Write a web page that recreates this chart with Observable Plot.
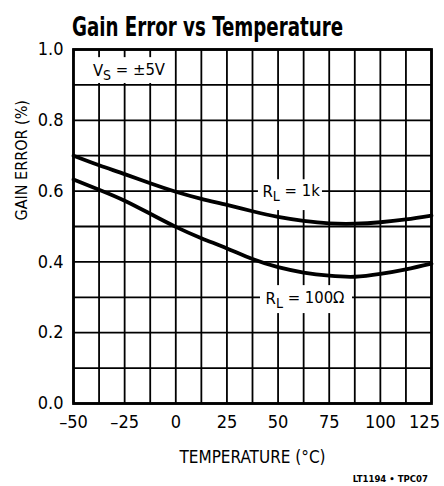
<!DOCTYPE html>
<html>
<head>
<meta charset="utf-8">
<script src="https://cdn.jsdelivr.net/npm/d3@7"></script>
<script src="https://cdn.jsdelivr.net/npm/@observablehq/plot@0.6"></script>
<style>
  html, body { margin: 0; padding: 0; background: #fff; }
  body { width: 444px; height: 486px; overflow: hidden; font-family: "Liberation Sans Narrow", "DejaVu Sans Condensed", sans-serif; }
  #title { display: block; width: 444px; height: 47px; }
  #caption { width: 444px; height: 14px; position: relative; font-size: 9.5px; font-weight: bold; }
  #caption span { position: absolute; right: 16px; top: 1px; }
</style>
</head>
<body>
<svg id="title" width="444" height="47"><text x="72" y="35.5" font-family="'Liberation Sans Narrow', 'DejaVu Sans Condensed', sans-serif" font-weight="bold" font-size="26" textLength="271" lengthAdjust="spacingAndGlyphs">Gain Error vs Temperature</text></svg>
<div id="chart"></div>
<div id="caption"><span>LT1194 • TPC07</span></div>
<script>
// Data
const temps = [-50, -37.5, -25, -12.5, 0, 12.5, 25, 37.5, 50, 62.5, 75, 87.5, 100, 112.5, 125];
const gain1k = [0.700, 0.673, 0.648, 0.622, 0.598, 0.578, 0.561, 0.543, 0.527, 0.516, 0.509, 0.508, 0.512, 0.520, 0.531];
const gain100 = [0.633, 0.604, 0.573, 0.536, 0.499, 0.467, 0.438, 0.408, 0.385, 0.370, 0.361, 0.358, 0.366, 0.379, 0.395];
const xTicks = [-50, -25, 0, 25, 50, 75, 100, 125];
const xTickLabels = ["–50", "–25", "0", "25", "50", "75", "100", "125"];
const yTicks = [0, 0.2, 0.4, 0.6, 0.8, 1.0];
const yTickLabels = ["0.0", "0.2", "0.4", "0.6", "0.8", "1.0"];
const xGrid = d3.range(-50, 125.01, 12.5);
const yGrid = d3.range(0, 1.001, 0.1);
// annotation labels: text "main|sub|rest", anchor point, background box (data units)
const labelText = ["V|S| = ±5V", "R|L| = 1k", "R|L| = 100Ω"];
const labelX = [-40.5, 42.4, 43.9];
const labelY = [0.941, 0.599, 0.297];
const boxX1 = [-49.6, 40.4, 41.4];
const boxX2 = [-1.3, 71.7, 86.4];
const boxY1 = [0.904, 0.545, 0.254];
const boxY2 = [0.977, 0.632, 0.333];
const labels = labelText.map((text, i) => ({text, x: labelX[i], y: labelY[i], x1: boxX1[i], x2: boxX2[i], y1: boxY1[i], y2: boxY2[i]}));

const series = [
  ...temps.map((t, i) => ({t, g: gain1k[i], s: "1k"})),
  ...temps.map((t, i) => ({t, g: gain100[i], s: "100"}))
];

const font = "'Liberation Sans Narrow', 'DejaVu Sans Condensed', sans-serif";

const chart = Plot.plot({
  width: 444,
  height: 425,
  marginTop: 2,
  marginBottom: 69,
  marginLeft: 73,
  marginRight: 13,
  style: {fontFamily: font, fontSize: "18px", color: "#000", background: "#fff", overflow: "visible"},
  x: {domain: [-50, 125], ticks: xTicks, tickFormat: (d) => xTickLabels[xTicks.indexOf(d)], label: null, tickSize: 0, tickPadding: 12},
  y: {domain: [0, 1], ticks: yTicks, tickFormat: (d) => yTickLabels[yTicks.findIndex(v => Math.abs(v - d) < 1e-9)], label: null, tickSize: 0, tickPadding: 10},
  marks: [
    Plot.ruleX(xGrid, {stroke: "#000", strokeWidth: 1.8}),
    Plot.ruleY(yGrid, {stroke: "#000", strokeWidth: 1.8}),
    Plot.rect(labels, {x1: "x1", x2: "x2", y1: "y1", y2: "y2", fill: "#fff"}),
    Plot.line(series, {x: "t", y: "g", z: "s", stroke: "#000", strokeWidth: 3.8, curve: "natural"}),
    Plot.text(labels, {x: "x", y: "y", text: "text", textAnchor: "start", fontSize: 16.5, fill: "#000"}),
    Plot.frame({stroke: "#000", strokeWidth: 2.8}),
    Plot.text(["TEMPERATURE (°C)"], {frameAnchor: "bottom", dy: 59, fontSize: 17, fill: "#000"}),
    Plot.text(["GAIN ERROR (%)"], {frameAnchor: "left", rotate: -90, dx: -52, dy: -6, fontSize: 16, fill: "#000"})
  ]
});
document.getElementById("chart").appendChild(chart);

// Subscripts: split "main|sub|rest" into tspans
d3.select(chart).selectAll("text").each(function() {
  const t = this.textContent;
  if (t.includes("|")) {
    const [main, sub, rest] = t.split("|");
    const el = d3.select(this);
    el.text(null);
    el.append("tspan").text(main);
    el.append("tspan").attr("dy", "0.3em").attr("font-size", "14px").text(sub);
    el.append("tspan").attr("dy", "-0.3em").text(rest);
  }
  if (t === "125") d3.select(this).attr("dx", -7);
});
</script>
</body>
</html>
